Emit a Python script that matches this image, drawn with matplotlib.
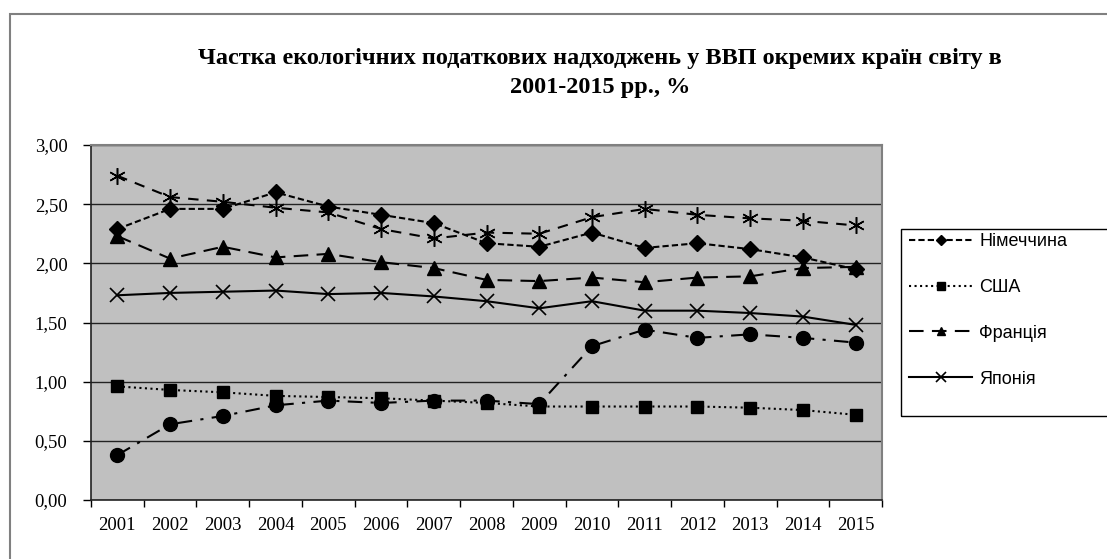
import numpy as np
import matplotlib.pyplot as plt
from matplotlib.patches import Rectangle

years = ['2001', '2002', '2003', '2004', '2005', '2006', '2007', '2008',
         '2009', '2010', '2011', '2012', '2013', '2014', '2015']

# series in the legend
germany = [2.29, 2.46, 2.46, 2.60, 2.48, 2.41, 2.34, 2.17, 2.14, 2.26, 2.13, 2.17, 2.12, 2.05, 1.95]
usa = [0.96, 0.93, 0.91, 0.88, 0.87, 0.86, 0.84, 0.82, 0.79, 0.79, 0.79, 0.79, 0.78, 0.76, 0.72]
france = [2.23, 2.04, 2.14, 2.05, 2.08, 2.01, 1.96, 1.86, 1.85, 1.88, 1.84, 1.88, 1.89, 1.96, 1.97]
japan = [1.73, 1.75, 1.76, 1.77, 1.74, 1.75, 1.72, 1.68, 1.62, 1.68, 1.60, 1.60, 1.58, 1.55, 1.48]
# two series without legend entries
star_series = [2.74, 2.56, 2.52, 2.47, 2.43, 2.29, 2.21, 2.26, 2.25, 2.39, 2.46, 2.41, 2.38, 2.36, 2.32]
circle_series = [0.38, 0.64, 0.71, 0.80, 0.84, 0.82, 0.84, 0.84, 0.81, 1.30, 1.44, 1.37, 1.40, 1.37, 1.33]

title = 'Частка екологічних податкових надходжень у ВВП окремих країн світу в\n2001-2015 рр., %'

W, H = 1107, 559
fig = plt.figure(figsize=(W / 100, H / 100), dpi=100)

# outer chart border
fig.patches.append(Rectangle((10 / W, -0.1), 1.2, 1 - 14 / H + 0.1, transform=fig.transFigure,
                             fill=False, edgecolor='#808080', lw=1.5))

ax = fig.add_axes([91 / W, 1 - 500 / H, (882 - 91) / W, (500 - 145) / H])
ax.set_facecolor('#C0C0C0')
x = np.arange(len(years))

lw = 1.5
l1, = ax.plot(x, germany, color='black', lw=lw, dashes=(3, 1.5), marker='D', ms=8, label='Німеччина', zorder=3)
l2, = ax.plot(x, usa, color='black', lw=lw, linestyle=':', marker='s', ms=9, label='США', zorder=3)
l3, = ax.plot(x, france, color='black', lw=lw, dashes=(7, 4), marker='^', ms=9.5, label='Франція', zorder=3)
l4, = ax.plot(x, japan, color='black', lw=lw, marker='x', ms=10, mew=1.2, label='Японія', zorder=3)
ax.plot(x, star_series, color='black', lw=lw, dashes=(5, 4), marker=(6, 2, 0), ms=12, mew=1.1, zorder=3)
ax.plot(x, circle_series, color='black', lw=lw, dashes=(7, 4, 1.5, 4), marker='o', ms=10, zorder=3)

ax.set_xlim(-0.5, len(years) - 0.5)
ax.set_ylim(0, 3)
yt = np.arange(0, 3.01, 0.5)
ax.set_yticks(yt)
ax.set_yticklabels([('%.2f' % v).replace('.', ',') for v in yt])
ax.set_xticks(x)
ax.set_xticklabels(years)
ax.set_xticks(np.arange(-0.5, len(years)), minor=True)
ax.tick_params(axis='x', which='major', length=0, pad=12)
ax.tick_params(axis='x', which='minor', length=5, width=1, direction='out')
ax.tick_params(axis='y', length=6, width=1, pad=11)
for lab in ax.get_xticklabels() + ax.get_yticklabels():
    lab.set_fontfamily('Liberation Serif')
    lab.set_fontsize(13.5)

ax.grid(axis='y', color='#222222', lw=1)
ax.set_axisbelow(True)
for side in ['top', 'right']:
    ax.spines[side].set_color('#808080')
    ax.spines[side].set_linewidth(1.5)
for side in ['left', 'bottom']:
    ax.spines[side].set_color('#222222')
    ax.spines[side].set_linewidth(1.2)

fig.text(600 / W, 1 - 73 / H, title, ha='center', va='center', fontsize=17.5,
         fontweight='bold', family='Liberation Serif', linespacing=1.45)

# legend frame and entries
fig.patches.append(Rectangle((901 / W, 1 - 416 / H), 0.3, (416 - 229) / H, transform=fig.transFigure,
                             fill=False, edgecolor='black', lw=1))
leg = fig.legend(handles=[l1, l2, l3, l4], loc='upper left', bbox_to_anchor=(909 / W, 1 - 233 / H),
                 frameon=False, numpoints=1, handlelength=3.5, handletextpad=0.4,
                 labelspacing=1.6, borderpad=0, borderaxespad=0,
                 prop={'family': 'Liberation Sans', 'size': 13}, markerscale=0.65)

fig.savefig('out.png', dpi=100)
